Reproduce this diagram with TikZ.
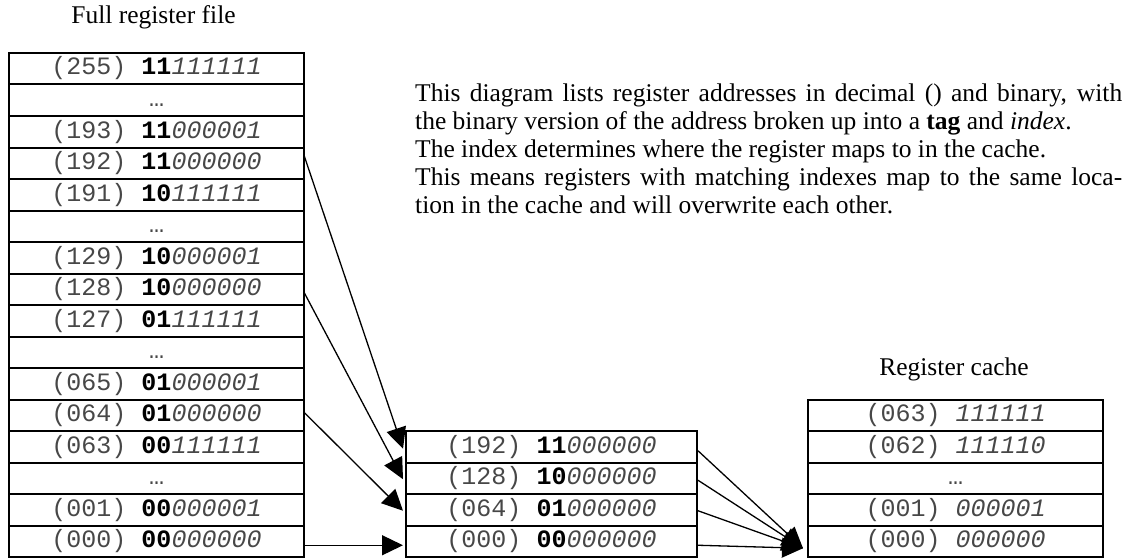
\documentclass[tikz,border=0pt]{standalone}
\usepackage{fontspec}
\setmainfont{Liberation Serif}
\setmonofont{Liberation Mono}
\usetikzlibrary{arrows.meta,calc}

% one register entry: decimal address, tag bits (bold), index bits (italic)
\newcommand\regentry[3]{{\color{black!72}(#1) }{\bfseries\color{black}#2}{\itshape\color{black!72}#3}}
\newcommand\regskip{{\color{black!72}…}}

\begin{document}
\begin{tikzpicture}[x=1pt,y=-1pt,
  cell/.style={draw, line width=2pt, minimum height=31.5pt, inner sep=0pt,
    font=\fontsize{25}{25}\ttfamily, text height=12.5pt, text depth=0pt},
  fullcell/.style={cell, minimum width=295pt},
  midcell/.style={cell, minimum width=291pt},
  cachecell/.style={cell, minimum width=295pt},
  caption/.style={font=\fontsize{25.5}{28}\selectfont, inner sep=0pt, anchor=base},
  link/.style={line width=1.3pt, -{Triangle[length=21pt,width=20pt]}}]
\useasboundingbox (0,0) rectangle (1131,559);

% full register file
\node[caption] (fulltitle) at (153.5,24) {Full register file};
\foreach \i/\a/\t/\x in {0/255/11/111111, 2/193/11/000001, 3/192/11/000000,
    4/191/10/111111, 6/129/10/000001, 7/128/10/000000, 8/127/01/111111,
    10/065/01/000001, 11/064/01/000000, 12/063/00/111111,
    14/001/00/000001, 15/000/00/000000}
  \node[fullcell] (L\i) at (156.5,{68.75+31.5*\i}) {\regentry{\a}{\t}{\x}};
\foreach \i in {1,5,9,13}
  \node[fullcell] (L\i) at (156.5,{68.75+31.5*\i}) {\regskip};

% entries that share index 000000
\foreach \i/\a/\t in {0/192/11, 1/128/10, 2/064/01, 3/000/00}
  \node[midcell] (M\i) at (551.5,{446.75+31.5*\i}) {\regentry{\a}{\t}{000000}};

% register cache
\node[caption] (cachetitle) at (954,375) {Register cache};
\node[cachecell] (R0) at (955.5,415.25) {\regentry{063}{}{111111}};
\node[cachecell] (R1) at (955.5,446.75) {\regentry{062}{}{111110}};
\node[cachecell] (R2) at (955.5,478.25) {\regskip};
\node[cachecell] (R3) at (955.5,509.75) {\regentry{001}{}{000001}};
\node[cachecell] (R4) at (955.5,541.25) {\regentry{000}{}{000000}};

% explanation
\node[font=\fontsize{25.5}{28}\selectfont, text width=707pt, align=justify,
      inner sep=0pt, anchor=base west] (note) at (415,101.7)
  {This diagram lists register addresses in decimal () and binary, with\linebreak
   the binary version of the address broken up into a \textbf{tag} and \textit{index}.\newline
   The index determines where the register maps to in the cache.\newline
   This means registers with matching indexes map to the same loca-\linebreak
   tion in the cache and will overwrite each other.};

% file -> grouped entries
\draw[link] ($(L3.east)+(-1,-8)$) -- ($(M0.west)+(-2,2)$);
\draw[link] ($(L7.east)+(-1,3)$) -- ($(M1.west)+(-2,1)$);
\draw[link] ($(L11.east)+(-1,-3)$) -- ($(M2.west)+(-2,1)$);
\draw[link] ($(L15.east)+(-2,4)$) -- ($(M3.west)+(-2,4)$);

% grouped entries -> one cache slot
\foreach \i/\d in {0/4, 1/2, 2/1, 3/4}
  \draw[link] ($(M\i.east)+(0,\d)$) -- ($(R4.west)+(-4,7)$);
\end{tikzpicture}
\end{document}
